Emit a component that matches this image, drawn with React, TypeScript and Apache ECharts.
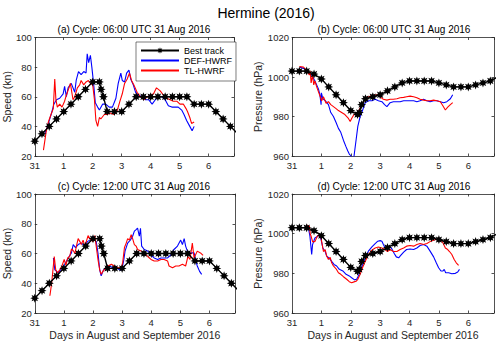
import React, { useEffect, useRef } from "react";
import * as echarts from "echarts";

// ---------- DATA ----------
const dayLabels = ["31", "1", "2", "3", "4", "5", "6"];
const speedTicks = [20, 40, 60, 80, 100];
const pressureTicks = [960, 980, 1000, 1020];

const bestDays = [0, 0.25, 0.5, 0.75, 1, 1.25, 1.5, 1.75, 2, 2.23, 2.29, 2.37, 2.5, 2.75, 3, 3.25, 3.5, 3.75, 4, 4.25, 4.5, 4.75, 5, 5.25, 5.5, 5.75, 6, 6.25, 6.5, 6.75, 7];
const bestSpeed = [30, 35, 40, 45, 50, 55, 60, 65, 70, 70, 65, 60, 50, 50, 50, 55, 60, 60, 60, 60, 60, 60, 60, 60, 55, 55, 55, 50, 45, 40, 35];
const bestPressure = [1003, 1003, 1003, 1001.5, 999, 995, 991, 987, 983, 981, 982, 986, 989, 990, 991, 993, 995, 997, 998, 998, 998, 998, 997, 996, 995, 995, 995, 996, 997, 998, 1000];

// (a) cycle 06:00 UTC speed
const defSpeedA: [number, number][] = [[0.35,35],[0.47,42],[0.58,49],[0.66,55],[0.75,58],[0.86,59],[0.98,62],[1.03,67],[1.09,60],[1.15,66],[1.26,69],[1.38,63],[1.43,71],[1.51,77],[1.6,75],[1.69,77],[1.77,76],[1.81,89],[1.86,83],[1.92,88],[1.97,80],[2.03,69],[2.09,56],[2.17,53],[2.23,51],[2.34,55],[2.45,55],[2.57,53],[2.68,53],[2.8,59],[2.88,69],[2.97,76],[3.02,71],[3.1,70],[3.17,76],[3.25,78],[3.31,72],[3.4,68],[3.48,63],[3.59,61],[3.7,60],[3.82,58],[3.93,58],[4.05,55],[4.16,58],[4.27,60],[4.39,60],[4.5,58],[4.61,54],[4.73,53],[4.84,53],[4.95,53],[5.07,51],[5.15,48],[5.24,44],[5.35,40],[5.43,37],[5.5,40]];
const tlSpeedA: [number, number][] = [[0.3,24],[0.39,36],[0.47,43],[0.56,48],[0.64,52],[0.69,72],[0.73,58],[0.78,53],[0.86,55],[0.94,53],[1.03,57],[1.09,61],[1.18,66],[1.23,69],[1.32,58],[1.38,60],[1.47,66],[1.55,68],[1.6,71],[1.69,68],[1.77,70],[1.85,71],[1.92,69],[2.0,68],[2.06,58],[2.11,44],[2.17,40],[2.23,46],[2.28,45],[2.4,48],[2.5,48],[2.6,49],[2.74,48],[2.85,51],[2.94,57],[3.02,62],[3.1,69],[3.19,72],[3.27,76],[3.34,71],[3.42,68],[3.53,63],[3.65,60],[3.76,58],[3.88,60],[3.99,61],[4.1,62],[4.2,66],[4.33,64],[4.44,61],[4.56,59],[4.67,58],[4.78,57],[4.9,57],[5.01,55],[5.13,55],[5.22,52],[5.27,50],[5.35,46],[5.41,42],[5.5,43]];

// (b) cycle 06:00 UTC pressure
const defPresB: [number, number][] = [[0.27,1005],[0.44,1004],[0.56,1002.5],[0.67,1001],[0.78,998],[0.9,994],[0.95,991],[0.99,986],[1.0,992],[1.05,989],[1.13,988],[1.24,986],[1.32,982],[1.41,980],[1.5,977],[1.58,974],[1.66,972],[1.75,968],[1.83,965],[1.9,962.5],[1.95,961],[2.01,960],[2.06,958],[2.1,958.5],[2.12,961],[2.18,968],[2.24,975],[2.32,980],[2.4,983],[2.49,987],[2.6,988],[2.72,988],[2.83,988.7],[2.94,988],[3.06,987.5],[3.15,986],[3.23,985],[3.34,987],[3.45,987.5],[3.57,987.5],[3.68,987.5],[3.8,988],[3.9,988],[4.02,988],[4.14,988],[4.25,987.5],[4.36,988],[4.48,988.7],[4.59,988],[4.7,987.5],[4.82,988],[4.93,988],[5.05,987.5],[5.16,987],[5.27,987.5],[5.39,989],[5.47,991]];
const tlPresB: [number, number][] = [[0.25,1005.3],[0.39,1005],[0.5,1003.3],[0.59,1001],[0.62,1003],[0.65,997],[0.7,1001],[0.74,996],[0.78,998],[0.84,995],[0.92,991.7],[1.01,988],[1.07,990],[1.16,986.7],[1.24,987.5],[1.32,986],[1.41,985],[1.5,984],[1.58,983],[1.69,982],[1.8,981],[1.92,979],[1.98,977.5],[2.03,979],[2.11,981],[2.18,981.7],[2.26,982.5],[2.34,985],[2.43,987.5],[2.55,989.7],[2.66,990.3],[2.77,990.7],[2.89,991],[3.0,990],[3.11,988.7],[3.23,988.3],[3.34,988.7],[3.45,988.7],[3.57,989],[3.68,989.5],[3.8,989.7],[3.9,990],[4.02,990.3],[4.14,990],[4.25,989.5],[4.36,988.7],[4.48,988.3],[4.59,988],[4.7,988],[4.82,988.3],[4.93,988],[5.05,987.5],[5.14,985.3],[5.22,983.3],[5.3,984.7],[5.39,986],[5.47,987]];

// (c) cycle 12:00 UTC speed
const defSpeedC: [number, number][] = [[0.64,57],[0.69,49],[0.81,47],[0.92,50],[1.03,52.7],[1.15,57],[1.26,60.4],[1.32,66],[1.4,64],[1.49,66],[1.6,67],[1.72,65],[1.81,68],[1.89,69],[1.94,70],[2.0,71.6],[2.06,69],[2.11,68],[2.17,60.4],[2.23,49],[2.28,45],[2.36,49],[2.45,50.4],[2.57,51.6],[2.68,50.4],[2.8,50.4],[2.91,49],[2.99,49],[3.06,56],[3.1,61.6],[3.19,67],[3.28,69],[3.36,71.6],[3.42,75],[3.48,76],[3.53,77],[3.59,71.6],[3.63,77],[3.67,65],[3.76,62.7],[3.88,61.6],[3.99,59],[4.1,57],[4.22,56],[4.33,57],[4.44,57],[4.56,57],[4.67,59],[4.78,62.7],[4.9,65],[5.01,69],[5.07,66],[5.13,70],[5.18,65],[5.24,61.6],[5.35,60.4],[5.47,60.4],[5.52,56],[5.58,51.6],[5.66,48],[5.73,46]];
const tlSpeedC: [number, number][] = [[0.52,31.6],[0.58,40],[0.62,48],[0.67,58],[0.72,49],[0.78,47],[0.86,49],[0.94,52],[1.01,56],[1.07,52],[1.13,57],[1.2,58],[1.26,63],[1.32,62],[1.38,60],[1.43,65],[1.49,70],[1.55,68],[1.6,66],[1.66,69],[1.72,65],[1.77,68],[1.83,72],[1.89,70],[1.94,69],[2.0,68],[2.06,72],[2.11,65],[2.17,56],[2.23,49],[2.28,46],[2.34,48],[2.42,50],[2.51,51.6],[2.63,52.7],[2.74,51.6],[2.85,50.4],[2.97,50.4],[3.02,54],[3.08,64],[3.14,67],[3.19,70],[3.25,69],[3.31,72.7],[3.36,70],[3.42,66],[3.48,65],[3.53,62.7],[3.65,61.6],[3.76,60.4],[3.88,58],[3.99,56],[4.1,55],[4.22,55],[4.33,56],[4.44,56],[4.56,55],[4.61,51.6],[4.73,50.4],[4.84,51.6],[4.95,51.6],[5.07,52.7],[5.18,51.6],[5.26,58],[5.33,56],[5.41,67],[5.47,57],[5.58,61.6],[5.69,60.4],[5.78,58.7]];

// (d) cycle 12:00 UTC pressure
const defPresD: [number, number][] = [[0.48,1004],[0.56,1002.8],[0.61,998.7],[0.67,989.5],[0.7,994.5],[0.78,997.8],[0.88,998.7],[0.93,999.5],[0.99,997],[1.05,992.8],[1.13,991],[1.18,988.7],[1.26,987.8],[1.35,986],[1.43,984.5],[1.52,983.7],[1.61,982],[1.73,981.2],[1.84,979.5],[1.95,978.7],[2.03,977.8],[2.13,976.7],[2.2,977],[2.26,978.7],[2.34,982],[2.43,985.3],[2.52,988.7],[2.6,991.2],[2.72,993.3],[2.83,995],[2.92,996.2],[3.0,996.5],[3.06,996.2],[3.11,994.5],[3.17,992.8],[3.25,993.3],[3.32,993.7],[3.4,992.3],[3.48,990],[3.55,988.3],[3.63,987.8],[3.7,989],[3.8,990.7],[3.9,992],[4.02,992.3],[4.14,992],[4.25,992.8],[4.36,994],[4.48,994.5],[4.59,993.7],[4.7,991.2],[4.82,988.3],[4.91,985.3],[4.99,982.8],[5.07,981.2],[5.14,981.2],[5.18,982],[5.23,980.3],[5.33,980.3],[5.44,979.8],[5.56,980],[5.64,980.7],[5.7,982]];
const tlPresD: [number, number][] = [[0.5,1004.5],[0.56,1002.8],[0.59,1004],[0.62,1000],[0.65,998.7],[0.7,996],[0.78,996],[0.86,998.7],[0.93,999.5],[0.98,998.7],[1.01,996],[1.07,991],[1.13,992],[1.18,988.7],[1.24,987],[1.3,988],[1.35,985.3],[1.41,983.7],[1.5,982.3],[1.58,980.3],[1.66,979.5],[1.75,978.3],[1.86,977],[1.95,975.8],[2.03,975.3],[2.11,975.7],[2.18,976],[2.24,977],[2.32,979.5],[2.4,982.8],[2.49,986],[2.6,989.5],[2.72,991.7],[2.83,992.8],[2.94,993.3],[3.06,992.8],[3.17,992],[3.25,991],[3.34,992],[3.45,991],[3.57,991],[3.68,992],[3.8,992.8],[3.9,993.7],[4.02,994],[4.14,993.7],[4.25,994.5],[4.36,995],[4.48,994.5],[4.59,995],[4.7,996],[4.82,996.7],[4.93,997.3],[4.99,997.8],[5.05,997],[5.14,995.3],[5.22,992.8],[5.3,992],[5.36,991],[5.44,989.5],[5.52,987],[5.59,985.3],[5.67,984]];

const seriesNames = ["Best track", "DEF-HWRF", "TL-HWRF"];
const mainTitle = "Hermine (2016)";
const panelTitles = [
  "(a) Cycle: 06:00 UTC 31 Aug 2016",
  "(b) Cycle: 06:00 UTC 31 Aug 2016",
  "(c) Cycle: 12:00 UTC 31 Aug 2016",
  "(d) Cycle: 12:00 UTC 31 Aug 2016",
];
const xName = "Days in August and September 2016";

// ---------- STYLE ----------
const FONT = "Liberation Sans, Arial, Helvetica, sans-serif";
const AX = "#262626";
const STAR =
  "path://M0,-10L2,-4.8L7.07,-7.07L4.8,-2L10,0L4.8,2L7.07,7.07L2,4.8L0,10L-2,4.8L-7.07,7.07L-4.8,2L-10,0L-4.8,-2L-7.07,-7.07L-2,-4.8Z";

const grids = [
  { left: 33, top: 37.5, width: 201, height: 118.5 },
  { left: 292, top: 37.5, width: 202, height: 118.5 },
  { left: 33, top: 194, width: 202, height: 119 },
  { left: 292, top: 194, width: 202, height: 119 },
];

function App() {
  const ref = useRef<HTMLDivElement>(null);

  useEffect(() => {
    if (!ref.current) return;
    const chart = echarts.init(ref.current, null, { renderer: "svg" });

    const lineStyleAx = { color: AX, width: 0.8 };
    const xAxes: any[] = [];
    const yAxes: any[] = [];
    const series: any[] = [];

    grids.forEach((g, i) => {
      const isSpeed = i % 2 === 0;
      const ticks = isSpeed ? speedTicks : pressureTicks;
      const bottomRow = i >= 2;
      const xCommon = {
        type: "value",
        gridIndex: i,
        min: 0,
        max: 6.875,
        interval: 1,
        splitLine: { show: false },
        axisLine: { show: true, onZero: false, lineStyle: lineStyleAx },
        axisTick: { show: true, inside: true, length: 2.5, lineStyle: lineStyleAx },
      };
      xAxes.push({
        ...xCommon,
        position: "bottom",
        axisLabel: {
          color: AX,
          fontSize: 9.5,
          fontFamily: FONT,
          margin: 4,
          formatter: (v: number) => (Number.isInteger(v) && dayLabels[v] !== undefined ? dayLabels[v] : ""),
        },
        name: bottomRow ? xName : "",
        nameLocation: "middle",
        nameGap: 16,
        nameTextStyle: { color: AX, fontSize: 10.5, fontFamily: FONT },
      });
      xAxes.push({ ...xCommon, position: "top", axisLabel: { show: false } });

      const yCommon = {
        type: "value",
        gridIndex: i,
        min: ticks[0],
        max: ticks[ticks.length - 1],
        interval: 20,
        splitLine: { show: false },
        axisLine: { show: true, onZero: false, lineStyle: lineStyleAx },
        axisTick: { show: true, inside: true, length: 2.5, lineStyle: lineStyleAx },
      };
      yAxes.push({
        ...yCommon,
        position: "left",
        axisLabel: {
          color: AX,
          fontSize: 9.5,
          fontFamily: FONT,
          margin: 3,
          formatter: (v: number) => String(v),
        },
        name: isSpeed ? "Speed (kn)" : "Pressure (hPa)",
        nameLocation: "middle",
        nameGap: isSpeed ? 18 : 24,
        nameTextStyle: { color: AX, fontSize: 10.5, fontFamily: FONT },
      });
      yAxes.push({ ...yCommon, position: "right", axisLabel: { show: false } });
    });

    const models: [number, number][][][] = [
      [defSpeedA, tlSpeedA],
      [defPresB, tlPresB],
      [defSpeedC, tlSpeedC],
      [defPresD, tlPresD],
    ];

    grids.forEach((_, i) => {
      const isSpeed = i % 2 === 0;
      const best = bestDays.map((d, k) => [d, isSpeed ? bestSpeed[k] : bestPressure[k]]);
      series.push({
        name: seriesNames[1],
        type: "line",
        xAxisIndex: 2 * i,
        yAxisIndex: 2 * i,
        data: models[i][0],
        symbol: "none",
        showSymbol: false,
        lineStyle: { color: "#0000ff", width: 1.1 },
        itemStyle: { color: "#0000ff" },
        z: 2,
      });
      series.push({
        name: seriesNames[2],
        type: "line",
        xAxisIndex: 2 * i,
        yAxisIndex: 2 * i,
        data: models[i][1],
        symbol: "none",
        showSymbol: false,
        lineStyle: { color: "#ff0000", width: 1.1 },
        itemStyle: { color: "#ff0000" },
        z: 3,
      });
      series.push({
        name: seriesNames[0],
        type: "line",
        xAxisIndex: 2 * i,
        yAxisIndex: 2 * i,
        data: best,
        symbol: STAR,
        symbolSize: 9,
        showSymbol: true,
        lineStyle: { color: "#000000", width: 1.4 },
        itemStyle: { color: "#000000" },
        z: 4,
      });
    });

    const titleCenters = [
      [134, 29],
      [394, 29],
      [134, 186],
      [394, 186],
    ];

    const graphic: any[] = [
      {
        type: "text",
        x: 266,
        y: 12.5,
        style: {
          text: mainTitle,
          font: `14px ${FONT}`,
          fill: "#000",
          textAlign: "center",
          textVerticalAlign: "middle",
        },
      },
      ...panelTitles.map((t, i) => ({
        type: "text",
        x: titleCenters[i][0],
        y: titleCenters[i][1],
        style: {
          text: t,
          font: `10px ${FONT}`,
          fill: "#000",
          textAlign: "center",
          textVerticalAlign: "middle",
        },
      })),
    ];

    chart.setOption({
      animation: false,
      backgroundColor: "#ffffff",
      grid: grids.map((g) => ({ ...g, containLabel: false })),
      xAxis: xAxes,
      yAxis: yAxes,
      legend: {
        data: [
          { name: seriesNames[0] },
          { name: seriesNames[1], itemStyle: { opacity: 0 } },
          { name: seriesNames[2], itemStyle: { opacity: 0 } },
        ],
        left: 136,
        top: 42,
        orient: "vertical",
        itemWidth: 38,
        itemHeight: 8,
        itemGap: 1,
        padding: [4, 4, 6, 4],
        borderColor: AX,
        borderWidth: 0.6,
        backgroundColor: "#ffffff",
        selectedMode: false,
        textStyle: { fontSize: 9, color: "#000", fontFamily: FONT },
      },
      graphic,
      series,
    });

    return () => chart.dispose();
  }, []);

  return (
    <div
      ref={ref}
      style={{ position: "absolute", left: 0, top: 0, width: 500, height: 346, background: "#fff" }}
    />
  );
}

export default App;
